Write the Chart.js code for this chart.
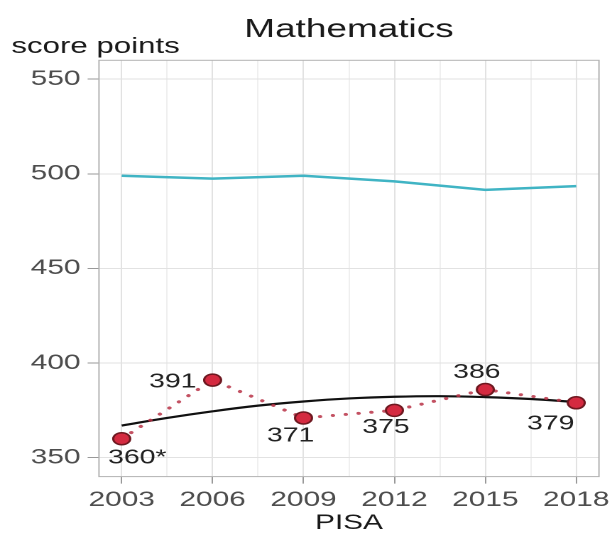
<!DOCTYPE html>
<html>
<head>
<meta charset="utf-8">
<script src="https://cdn.jsdelivr.net/npm/chart.js@4/dist/chart.umd.min.js"></script>
<style>
  html, body { margin: 0; padding: 0; background: #fff; overflow: hidden; }
  #wrap { width: 431px; height: 540px; transform: scaleX(1.42); transform-origin: 0 0; }
</style>
</head>
<body>
<div id="wrap"><canvas id="mathChart" width="431" height="540"></canvas></div>
<script>
const years = [2003, 2006, 2009, 2012, 2015, 2018];
const countryScores = [360, 391, 371, 375, 386, 379];
const scoreLabels = ['360*', '391', '371', '375', '386', '379'];
const oecdAverage = [499, 497.5, 499, 496, 491.5, 493.5];
// trend curve
const trendYears = [2003, 2004.5, 2006, 2007.5, 2009, 2010.5, 2012, 2013.5, 2015, 2016.5, 2018];
const trendScores = [367, 371, 374.5, 377.5, 379.7, 381.3, 382.2, 382.5, 382, 381, 379.4];
const yTicks = [350, 400, 450, 500, 550];
const xMinor = [2004.5, 2007.5, 2010.5, 2013.5, 2016.5];

const FONT = '"Liberation Sans", Arial, sans-serif';

const toXY = (xs, ys) => xs.map((x, i) => ({ x: x, y: ys[i] }));

// label offsets from each point
const labelOffsets = [[11, 19], [-28, 2], [-9, 18], [-6, 17], [-6, -17], [-18, 21]];

const textPlugin = {
    id: 'texts',
    beforeDraw(chart) {
        const c = chart.ctx;
        c.save();
        c.fillStyle = '#fff';
        c.fillRect(0, 0, chart.width, chart.height);
        c.restore();
    },
    afterDraw(chart) {
        const c = chart.ctx;
        const a = chart.chartArea;
        c.save();
        // panel border
        c.strokeStyle = '#b3b3b3';
        c.lineWidth = 1;
        c.strokeRect(a.left, a.top, a.right - a.left, a.bottom - a.top);

        c.fillStyle = '#1a1a1a';
        c.textBaseline = 'alphabetic';
        c.textAlign = 'center';
        c.font = '26px ' + FONT;
        c.fillText('Mathematics', (a.left + a.right) / 2, 37);

        c.textAlign = 'left';
        c.font = '22px ' + FONT;
        c.fillText('score points', 8, 53);

        c.textAlign = 'center';
        c.textBaseline = 'middle';
        c.font = '21px ' + FONT;
        c.fillText('PISA', (a.left + a.right) / 2, 523);

        // value labels
        const meta = chart.getDatasetMeta(0);
        c.font = '20px ' + FONT;
        c.fillStyle = '#222';
        meta.data.forEach((pt, i) => {
            c.fillText(scoreLabels[i], pt.x + labelOffsets[i][0], pt.y + labelOffsets[i][1]);
        });
        c.restore();
    }
};

const ctx = document.getElementById('mathChart').getContext('2d');

new Chart(ctx, {
    type: 'line',
    data: {
        datasets: [
            {
                label: 'Country',
                data: toXY(years, countryScores),
                borderColor: 'rgba(185, 50, 70, 0.85)',
                borderWidth: 3,
                borderDash: [0.1, 9],
                borderCapStyle: 'round',
                pointRadius: 6,
                pointBorderWidth: 1.5,
                pointBackgroundColor: '#d42a40',
                pointBorderColor: '#6e1820',
                order: 0
            },
            {
                label: 'Trend',
                data: toXY(trendYears, trendScores),
                borderColor: '#111',
                borderWidth: 2.2,
                tension: 0.4,
                pointRadius: 0,
                order: 1
            },
            {
                label: 'OECD average',
                data: toXY(years, oecdAverage),
                borderColor: '#40b4c4',
                borderWidth: 2.5,
                tension: 0,
                pointRadius: 0,
                order: 2
            }
        ]
    },
    options: {
        responsive: false,
        animation: false,
        devicePixelRatio: 2,
        layout: { padding: { top: 60.3, right: 9.2, left: 0, bottom: 0 } },
        plugins: {
            legend: { display: false },
            tooltip: { enabled: false }
        },
        scales: {
            x: {
                type: 'linear',
                min: 2002.25,
                max: 2018.75,
                afterBuildTicks: s => { s.ticks = years.concat(xMinor).sort((p, q) => p - q).map(v => ({ value: v })); },
                afterFit: s => { s.height = 63.4; s.paddingLeft = 0; s.paddingRight = 0; },
                border: { display: false },
                grid: {
                    color: c => years.includes(c.tick.value) ? '#e2e2e2' : '#efefef',
                    tickColor: c => years.includes(c.tick.value) ? '#999' : 'rgba(0,0,0,0)',
                    tickLength: 7,
                    lineWidth: 1
                },
                ticks: {
                    autoSkip: false,
                    maxRotation: 0,
                    padding: 4,
                    color: '#4d4d4d',
                    font: { family: FONT, size: 21 },
                    callback: v => years.includes(v) ? String(v) : ''
                }
            },
            y: {
                type: 'linear',
                min: 340,
                max: 560,
                afterBuildTicks: s => { s.ticks = yTicks.map(v => ({ value: v })); },
                afterFit: s => { s.width = 69.7; s.paddingTop = 0; s.paddingBottom = 0; },
                border: { display: false },
                grid: {
                    color: '#e2e2e2',
                    tickColor: '#999',
                    tickLength: 8,
                    lineWidth: 1
                },
                ticks: {
                    padding: 5,
                    color: '#4d4d4d',
                    font: { family: FONT, size: 21 }
                }
            }
        }
    },
    plugins: [textPlugin]
});
</script>
</body>
</html>
